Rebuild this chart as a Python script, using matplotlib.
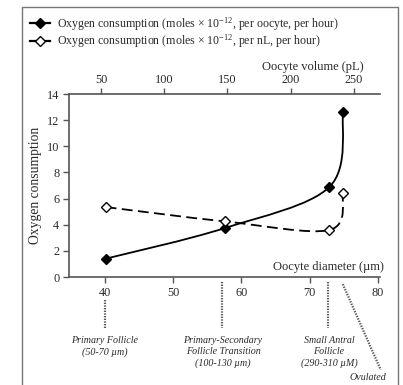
import matplotlib
matplotlib.use("Agg")
import matplotlib.pyplot as plt
from matplotlib.path import Path
from matplotlib.patches import PathPatch, Rectangle
from matplotlib.lines import Line2D
import numpy as np

plt.rcParams['font.family'] = ['Liberation Serif', 'DejaVu Serif']
plt.rcParams['mathtext.fontset'] = 'custom'
plt.rcParams['mathtext.rm'] = 'Liberation Serif'
plt.rcParams['mathtext.it'] = 'Liberation Serif:italic'

# Oocyte diameter (um) of each stage
diameter = [40.1, 57.6, 72.9, 74.9]
# Oxygen consumption per oocyte per hour (moles x 1e-12)
per_oocyte = [1.4, 3.75, 6.9, 12.6]
# Oxygen consumption per nL per hour (moles x 1e-12)
per_nl = [5.35, 4.25, 3.6, 6.45]

diam_ticks = [40, 50, 60, 70, 80]
vol_ticks = [50, 100, 150, 200, 250]
y_ticks = [0, 2, 4, 6, 8, 10, 12, 14]

stage_x = [40.0, 57.2, 72.7]
stage_labels = ["Primary Follicle\n(50-70 \u00b5m)",
                "Primary-Secondary\nFollicle Transition\n(100-130 \u00b5m)",
                "Small Antral\nFollicle\n(290-310 \u00b5M)"]

TXT = '#2a2a2a'
AX = '#555555'


def smooth_path(xs, ys):
    """Catmull-Rom curve through the points, expressed as cubic Beziers."""
    pts = np.column_stack([xs, ys]).astype(float)
    n = len(pts)
    verts = [pts[0]]
    codes = [Path.MOVETO]
    for i in range(n - 1):
        p0 = pts[i - 1] if i > 0 else pts[i]
        p1 = pts[i]
        p2 = pts[i + 1]
        p3 = pts[i + 2] if i + 2 < n else pts[i + 1]
        c1 = p1 + (p2 - p0) / 6.0
        c2 = p2 - (p3 - p1) / 6.0
        verts += [c1, c2, p2]
        codes += [Path.CURVE4] * 3
    return Path(verts, codes)


fig = plt.figure(figsize=(4.03, 3.85), dpi=100)
ax = fig.add_axes([69 / 403, 1 - 277 / 385, 311 / 403, 183 / 385])
ax.set_xlim(34.73, 80.3)
ax.set_ylim(0, 14)

# per-oocyte series: solid line, filled diamonds
ax.add_patch(PathPatch(smooth_path(diameter, per_oocyte), fill=False,
                       lw=1.3, color='black'))
ax.plot(diameter, per_oocyte, ls='none', marker='D', ms=5.5,
        mfc='black', mec='black', zorder=5)

# per-nL series: dashed line, open diamonds
ax.add_patch(PathPatch(smooth_path(diameter, per_nl), fill=False,
                       lw=1.3, color='black', ls=(0, (6, 3))))
ax.plot(diameter, per_nl, ls='none', marker='D', ms=5.5,
        mfc='white', mec='black', mew=1.0, zorder=5)

for s in ('right', 'top'):
    ax.spines[s].set_visible(False)
for s in ('left', 'bottom'):
    ax.spines[s].set_color(AX)
    ax.spines[s].set_linewidth(1.2)

ax.set_xticks(diam_ticks)
ax.set_yticks(y_ticks)
ax.tick_params(axis='both', direction='out', length=4, width=1,
               color=AX, labelsize=8.8, labelcolor=TXT, pad=3)
ax.tick_params(axis='x', pad=3)

ax.set_ylabel("Oxygen consumption", fontsize=9.8, color=TXT)
ax.yaxis.set_label_coords(-0.086, 0.5)


# top axis: oocyte volume
def d2v(d):
    return 53.16 + 5.395 * (np.asarray(d) - 40)


def v2d(v):
    return 40 + (np.asarray(v) - 53.16) / 5.395


sec = ax.secondary_xaxis('top', functions=(d2v, v2d))
sec.set_xticks(vol_ticks)
sec.spines['top'].set_color(AX)
sec.spines['top'].set_linewidth(1.2)
sec.tick_params(direction='out', length=4, width=1, color=AX,
                labelsize=8.8, labelcolor=TXT, pad=2)

fig.text(313 / 403, 1 - 67 / 385, "Oocyte volume (pL)", ha='center',
         va='center', fontsize=9, color=TXT)
fig.text(384 / 403, 1 - 267 / 385, "Oocyte diameter (\u00b5m)", ha='right',
         va='center', fontsize=9, color=TXT)

# stage markers below the diameter axis
dot = dict(color='#555555', lw=1.6, ls=(0, (0.6, 0.6)), clip_on=False)
ax.plot([stage_x[0], stage_x[0]], [-1.75, -3.9], **dot)
ax.plot([stage_x[1], stage_x[1]], [-0.4, -3.9], **dot)
ax.plot([stage_x[2], stage_x[2]], [-0.4, -3.9], **dot)
ax.plot([74.85, 80.4], [-0.55, -7.1], **dot)

label_x_px = [105, 223, 329]
for xp, lab in zip(label_x_px, stage_labels):
    fig.text(xp / 403, 1 - 336 / 385, lab, ha='center', va='top',
             fontsize=7.2, style='italic', color=TXT, linespacing=1.3)
fig.text(368 / 403, 1 - 378 / 385, "Ovulated", ha='center', va='center',
         fontsize=7.2, style='italic', color=TXT)

# legend
handles = [
    Line2D([], [], color='black', lw=1.6, marker='D', ms=5, mfc='black',
           mec='black'),
    Line2D([], [], color='black', lw=1.6, marker='D', ms=5, mfc='white',
           mec='black'),
]
labels = [
    r"Oxygen consumption (moles $\times$ 10$^{-12}$, per oocyte, per hour)",
    r"Oxygen consumption (moles $\times$ 10$^{-12}$, per nL, per hour)",
]
fig.legend(handles, labels, loc='upper left',
           bbox_to_anchor=(30 / 403, 1 - 15 / 385), frameon=False,
           fontsize=8.6, handlelength=1.7, handletextpad=0.55,
           labelspacing=0.0, borderaxespad=0, borderpad=0,
           labelcolor=TXT)

# outer frame around the whole figure
fig.patches.append(Rectangle((22 / 403, -0.05), 376 / 403, 1 - 7 / 385 + 0.05,
                             transform=fig.transFigure, fill=False,
                             ec='#777777', lw=1.0))

fig.savefig("out.png", dpi=100)
